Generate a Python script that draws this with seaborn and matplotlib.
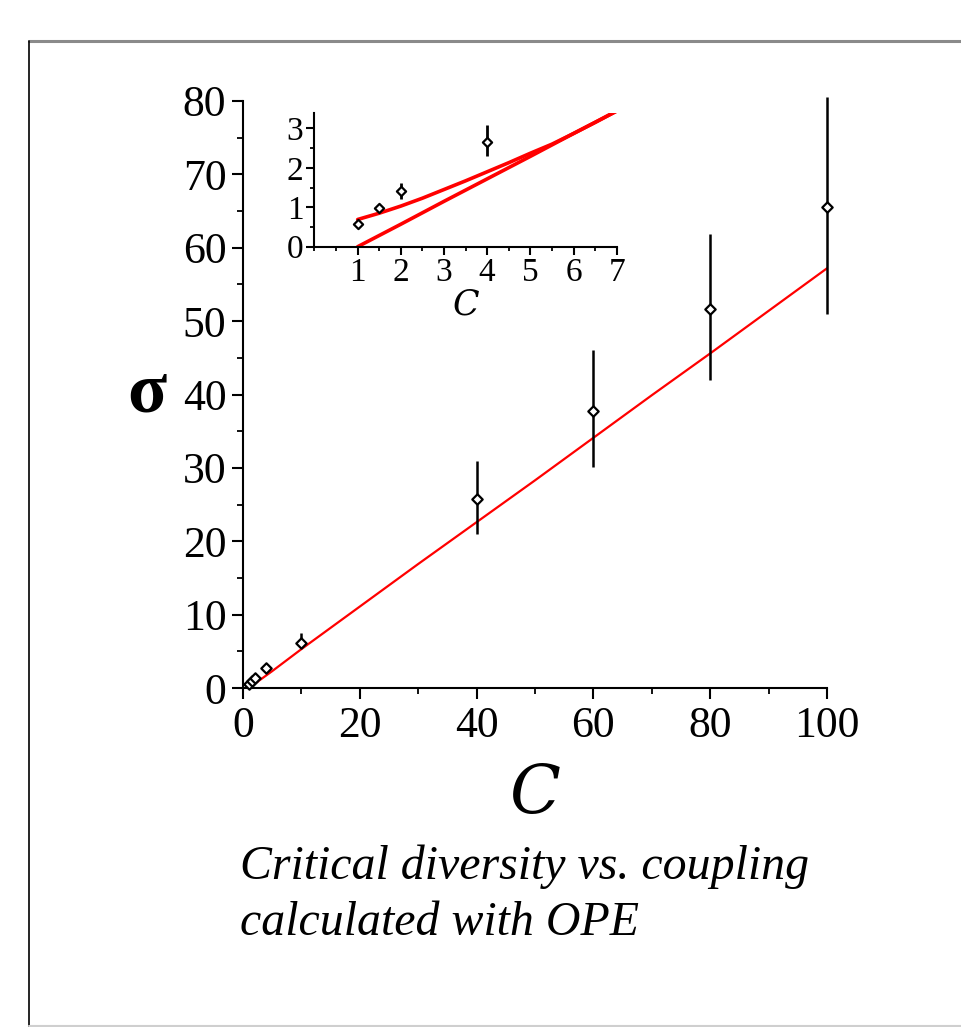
import matplotlib
matplotlib.use("Agg")
import matplotlib.pyplot as plt
from matplotlib.lines import Line2D
from matplotlib.ticker import MultipleLocator
import numpy as np
import pandas as pd
import seaborn as sns

# Measured critical diversity (sigma) vs coupling C, with error-bar bounds
coupling = [1, 1.5, 2, 4, 10, 40, 60, 80, 100]
sigma = [0.58, 0.98, 1.40, 2.66, 6.1, 25.7, 37.7, 51.7, 65.5]
sigma_low = [0.52, 0.90, 1.20, 2.30, 5.5, 21.0, 30.1, 42.0, 51.0]
sigma_high = [0.64, 1.06, 1.61, 3.09, 7.5, 30.9, 46.0, 61.9, 80.6]

# OPE prediction (main panel)
ope_c = [1, 5, 10, 20, 30, 40, 50, 60, 70, 80, 90, 100]
ope_sigma = [0.0, 2.3, 5.3, 11.1, 16.9, 22.6, 28.3, 34.1, 39.9, 45.6, 51.4, 57.2]

# OPE curves near the origin (inset)
asym_c = [1, 2, 3, 4, 5, 6, 7]
asym_sigma = [0.0, 0.57, 1.15, 1.72, 2.29, 2.87, 3.44]
full_c = [1.0, 1.5, 2.0, 2.5, 3.0, 3.5, 4.0, 4.5, 5.0, 5.5, 6.0, 6.5, 7.0]
full_sigma = [0.69, 0.85, 1.03, 1.23, 1.45, 1.67, 1.90, 2.13, 2.37, 2.60, 2.87, 3.15, 3.44]

inset_n = 4  # first four measurements shown in the inset

sns.set_style("ticks")
plt.rcParams["font.family"] = ["Liberation Serif", "DejaVu Serif"]
plt.rcParams["mathtext.fontset"] = "dejavuserif"
for key in ("text.color", "axes.labelcolor", "xtick.color", "ytick.color"):
    plt.rcParams[key] = "black"

fig = plt.figure(figsize=(9.62, 10.27), dpi=100)

# page frame
fig.add_artist(Line2D([29 / 962, 1.0], [1 - 41 / 1027] * 2, color="#8a8a8a", lw=2.2,
                      transform=fig.transFigure))
fig.add_artist(Line2D([29 / 962] * 2, [0.0, 1 - 41 / 1027], color="black", lw=1.2,
                      transform=fig.transFigure))
fig.add_artist(Line2D([29 / 962, 1.0], [1 / 1027] * 2, color="#cfcfcf", lw=1.5,
                      transform=fig.transFigure))


def style_axes(ax, major_len, minor_len):
    sns.despine(ax=ax)
    for s in ("left", "bottom"):
        ax.spines[s].set_linewidth(1.5)
        ax.spines[s].set_color("black")
    ax.tick_params(which="major", direction="out", length=major_len, width=1.5, color="black")
    ax.tick_params(which="minor", direction="out", length=minor_len, width=1.3, color="black")
    ax.set_facecolor("none")


def draw_points(ax, n, ms, elw):
    c = coupling[:n]
    s = np.array(sigma[:n])
    lo = s - np.array(sigma_low[:n])
    hi = np.array(sigma_high[:n]) - s
    eb = ax.errorbar(c, s, yerr=[lo, hi], fmt="none", ecolor="black", elinewidth=elw,
                     capsize=0, zorder=3)
    for coll in eb[2]:
        coll.set_clip_on(False)
    sc = sns.scatterplot(x=c, y=s, ax=ax, marker="D", s=ms, facecolor="white",
                         edgecolor="black", linewidth=1.6, zorder=4)
    for coll in sc.collections:
        coll.set_clip_on(False)


# ---- main panel ----
ax = fig.add_axes([243 / 962, 1 - 688 / 1027, 584 / 962, 587 / 1027])
sns.lineplot(x=ope_c, y=ope_sigma, ax=ax, color="#ff0000", lw=1.6, zorder=2)
draw_points(ax, len(coupling), 28, 1.8)
ax.set_xlim(0, 100)
ax.set_ylim(0, 80)
ax.xaxis.set_major_locator(MultipleLocator(20))
ax.xaxis.set_minor_locator(MultipleLocator(10))
ax.yaxis.set_major_locator(MultipleLocator(10))
ax.yaxis.set_minor_locator(MultipleLocator(5))
style_axes(ax, 8, 4)
ax.tick_params(axis="both", which="major", labelsize=31.5)
ax.tick_params(axis="x", which="major", pad=5)
ax.tick_params(axis="y", which="major", pad=4)
ax.set_xlabel("$\\mathit{C}$", fontsize=48, labelpad=14)
ax.set_ylabel("σ", fontsize=52, fontweight="bold", rotation=0, labelpad=18,
              va="center")
ax.yaxis.set_label_coords(-0.165, 0.50)

# ---- inset ----
ins = fig.add_axes([314.5 / 962, 1 - 246.7 / 1027, 302.2 / 962, 133.7 / 1027])
sns.lineplot(x=asym_c, y=asym_sigma, ax=ins, color="#ff0000", lw=2.6, zorder=2)
sns.lineplot(x=full_c, y=full_sigma, ax=ins, color="#ff0000", lw=2.6, zorder=2)
draw_points(ins, inset_n, 22, 2.0)
ins.set_xlim(0, 7)
ins.set_ylim(0, 3.39)
ins.set_xticks([1, 2, 3, 4, 5, 6, 7])
ins.xaxis.set_minor_locator(MultipleLocator(0.5))
ins.set_yticks([0, 1, 2, 3])
ins.yaxis.set_minor_locator(MultipleLocator(0.5))
style_axes(ins, 6, 3)
ins.tick_params(axis="both", which="major", labelsize=24, pad=2)
ins.set_xlabel("$\\mathit{C}$", fontsize=25, labelpad=1)

# caption
fig.text(240 / 962, 1 - 895 / 1027, "Critical diversity vs. coupling\ncalculated with OPE",
         fontsize=34.5, fontstyle="italic", ha="left", va="center", linespacing=1.35)

fig.savefig("out.png", dpi=100)
